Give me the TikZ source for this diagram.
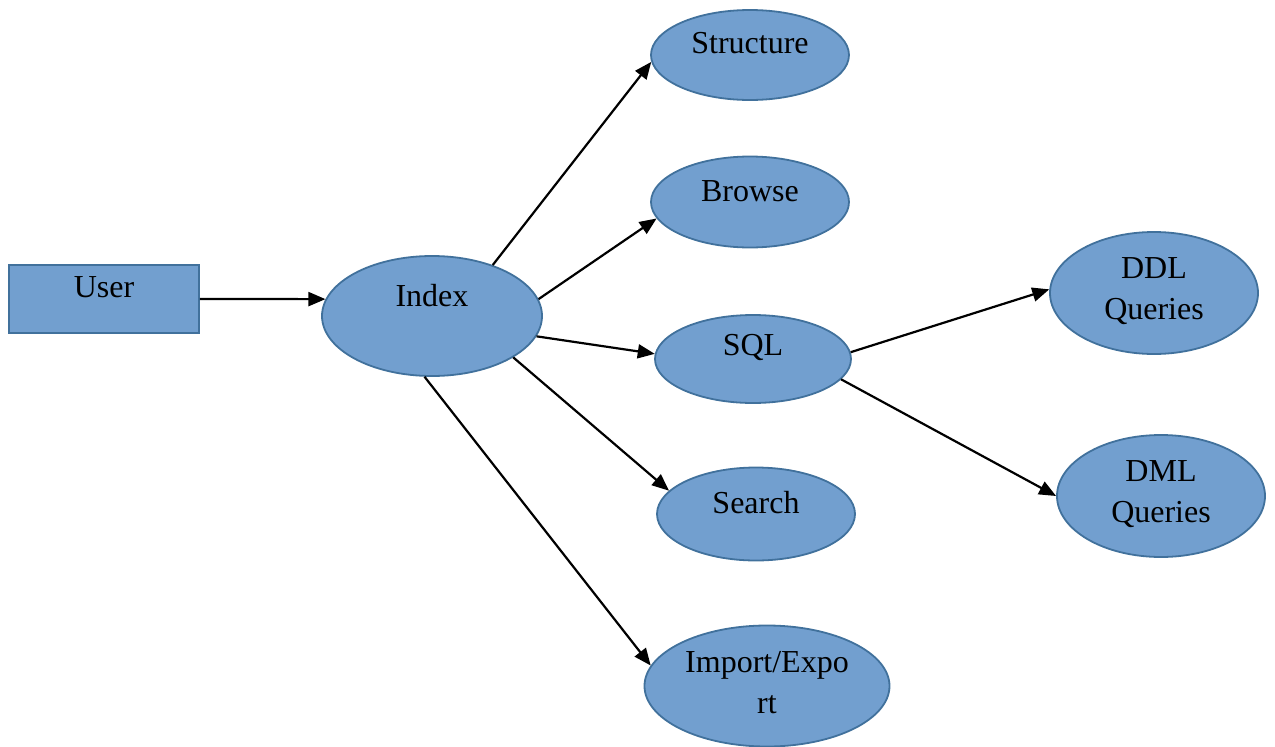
\documentclass[tikz,border=0pt]{standalone}
\usepackage{fontspec}
\setmainfont{Liberation Serif}
\usetikzlibrary{shapes.geometric,arrows.meta}
\definecolor{fillblue}{HTML}{729FCF}
\definecolor{edgeblue}{HTML}{41719C}
\begin{document}
\begin{tikzpicture}[x=1pt,y=-1pt,
  ell/.style={ellipse,draw=edgeblue,fill=fillblue,line width=1.8pt,inner sep=0pt},
  box/.style={rectangle,draw=edgeblue,fill=fillblue,line width=1.8pt,inner sep=0pt},
  lbl/.style={font=\fontsize{32}{41}\selectfont,align=center,inner sep=0pt},
  arr/.style={line width=2.2pt,-{Triangle[length=17pt,width=14pt]}}]
\useasboundingbox (0,0) rectangle (1275,747);
% shapes
\node[box,minimum width=190pt,minimum height=68pt] (user) at (104,299) {};
\node[ell,minimum width=220pt,minimum height=120pt] (idx) at (432,316) {};
\node[ell,minimum width=198pt,minimum height=90pt] (str) at (750,55) {};
\node[ell,minimum width=198pt,minimum height=91pt] (brw) at (750,202) {};
\node[ell,minimum width=196pt,minimum height=88pt] (sql) at (753,359) {};
\node[ell,minimum width=198pt,minimum height=93pt] (srch) at (756,514) {};
\node[ell,minimum width=245pt,minimum height=121pt] (imp) at (767,686) {};
\node[ell,minimum width=208pt,minimum height=122pt] (ddl) at (1154,293) {};
\node[ell,minimum width=208pt,minimum height=122pt] (dml) at (1161,496) {};
% labels
\node[lbl] (userT) at (104,287) {User};
\node[lbl] (idxT) at (432,296) {Index};
\node[lbl] (strT) at (750,43) {Structure};
\node[lbl] (brwT) at (750,191) {Browse};
\node[lbl] (sqlT) at (753,347) {SQL};
\node[lbl] (srchT) at (756,503) {Search};
\node[lbl] (impT) at (767,683) {Import/Expo\\rt};
\node[lbl] (ddlT) at (1154,291) {DDL\\Queries};
\node[lbl] (dmlT) at (1161,494) {DML\\Queries};
% connectors
\draw[arr] (user.east) -- (idx.171);
\draw[arr] (idx.40) -- (str.184);
\draw[arr] (idx.9) -- (brw.190);
\draw[arr] (idx.-11) -- (sql.177);
\draw[arr] (idx.-27) -- (srch.165);
\draw[arr] (idx.263) -- (imp.170);
\draw[arr] (sql.4) -- (ddl.178);
\draw[arr] (sql.-13) -- (dml.180);
\end{tikzpicture}
\end{document}
